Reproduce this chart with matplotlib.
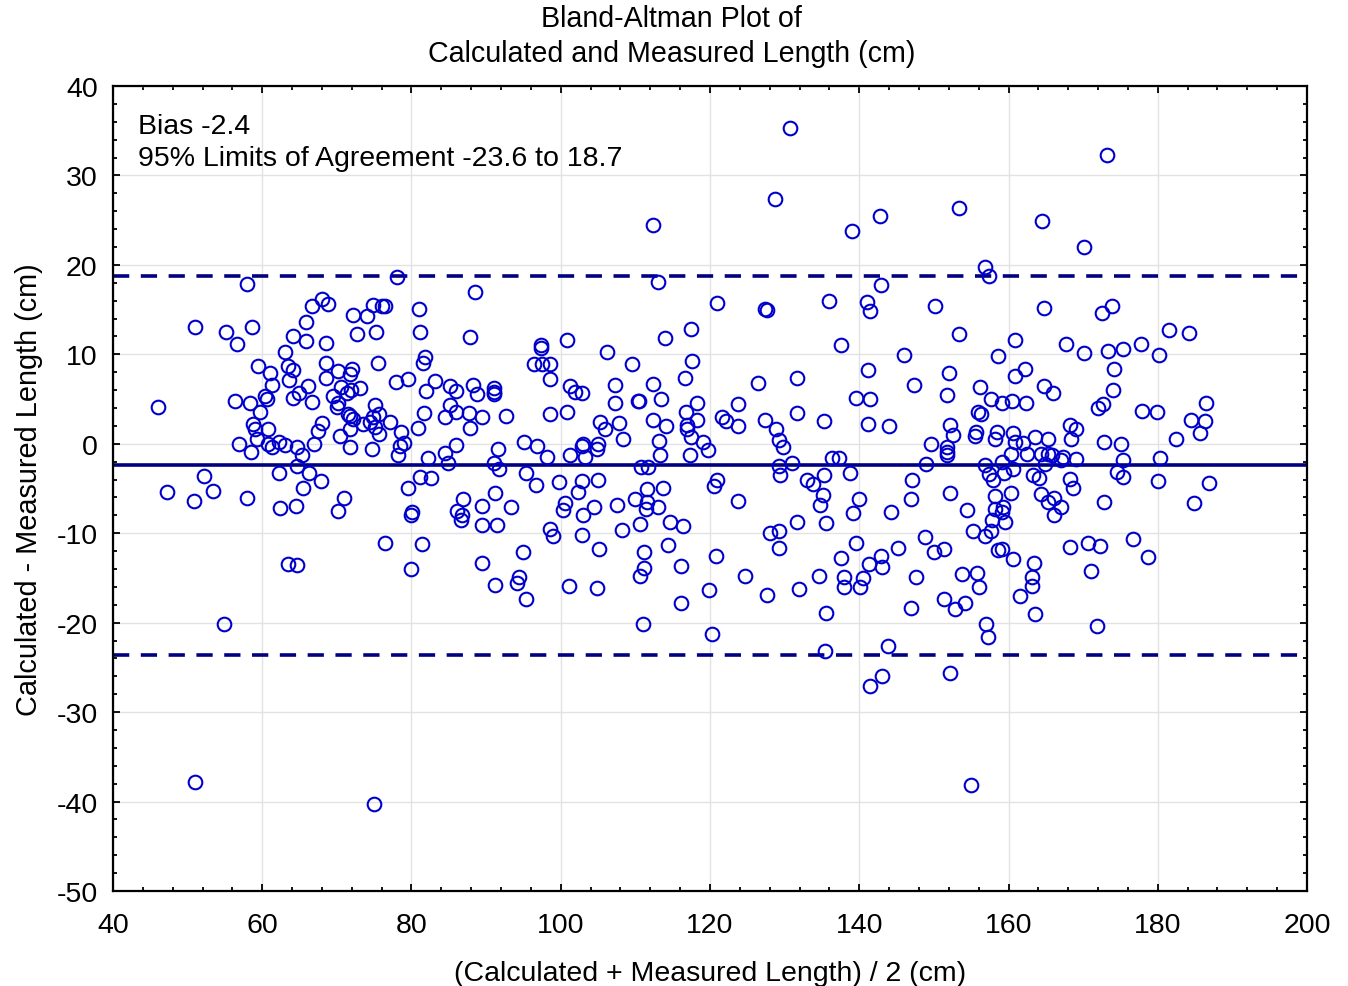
import matplotlib
matplotlib.use('Agg')
import matplotlib.pyplot as plt
from matplotlib.ticker import MultipleLocator
import numpy as np

plt.rcParams['font.family'] = ['Liberation Sans', 'DejaVu Sans']
plt.rcParams['axes.unicode_minus'] = False

# (mean, difference) pairs, grouped by x range
pts_40_78 = [
    (46.1, 4.1), (47.3, -5.4), (50.9, -6.4), (51.0, 13.0), (52.2, -3.6), (53.4, -5.3),
    (54.9, -20.2), (55.1, 12.5), (56.6, 11.2), (56.3, 4.8), (56.9, 0.0), (57.9, 17.9),
    (57.9, -6.1), (58.3, 4.6), (58.6, 13.1), (58.5, -0.9), (58.8, 2.2), (59.0, 1.6),
    (59.3, 0.5), (59.5, 8.7), (59.7, 3.5), (60.4, 5.3), (60.6, 5.0), (60.8, 1.65),
    (60.8, 0.0), (61.0, 7.9), (61.3, 6.6), (61.3, -0.35), (62.2, 0.2), (62.3, -3.3),
    (62.4, -7.2), (63.0, -0.1), (63.1, 10.2), (63.4, 8.7), (63.6, 7.1), (64.1, 8.2),
    (64.1, 12.1), (64.1, 5.1), (63.4, -13.4), (64.5, -7.0), (64.6, -0.4), (64.7, -2.5),
    (64.7, -13.6), (64.9, 5.7), (65.3, -1.3), (65.5, -4.9), (65.8, 13.6), (65.8, 11.5),
    (66.1, 6.4), (66.3, -3.3), (66.7, 15.4), (66.7, 4.7), (67.0, 0.0), (67.5, 1.4),
    (68.0, 2.3), (67.9, -4.2), (68.0, 16.2), (68.8, 15.6), (68.6, 11.3), (68.5, 9.0),
    (68.6, 7.3), (69.5, 5.3), (70.1, 8.1), (70.0, 4.1), (70.2, 4.6), (70.4, 0.9),
    (70.5, 6.3), (71.0, -6.1), (70.2, -7.5), (71.3, 5.7), (71.9, 6.0), (71.5, 3.3),
    (71.8, 3.1), (72.2, 2.8), (71.8, 7.8), (72.0, 8.4), (71.8, 1.65), (71.8, -0.4),
    (72.2, 14.4), (72.7, 12.3), (73.1, 6.2), (73.5, 2.2), (74.1, 14.3), (74.8, 15.5),
    (74.4, 2.4), (74.9, 3.0), (74.7, -0.6), (75.1, 4.3), (75.1, 1.85), (75.2, 12.5),
    (75.5, 9.0), (75.6, 3.3), (75.6, 1.1), (76.0, 15.4), (76.5, 15.4), (76.4, -11.1),
    (77.1, 2.4), (77.9, 6.9), (78.0, 18.6), (51.0, -37.8), (75.0, -40.3),
]

pts_78_118 = [
    (78.6, 1.3), (79.0, 0.1), (78.4, -0.3), (78.2, -1.3), (79.6, 7.2), (79.6, -4.9),
    (80.1, -7.6), (80.0, -8.0), (80.0, -14.0), (80.9, 1.8), (81.0, 15.1), (81.2, 12.5),
    (81.8, 9.7), (81.5, 9.0), (82.0, 5.9), (81.7, 3.4), (81.1, -3.75), (82.2, -1.6),
    (81.4, -11.2), (82.6, -3.85), (83.1, 7.05), (84.5, 3.0), (84.5, -1.0), (84.9, -2.2),
    (85.1, 4.3), (85.2, 6.5), (86.0, 5.9), (86.0, 3.6), (86.0, -0.1), (86.9, -6.2),
    (86.1, -7.5), (86.8, -8.0), (86.7, -8.5), (87.7, 3.4), (87.9, 11.9), (87.9, 1.8),
    (88.2, 6.6), (88.5, 17.0), (88.8, 5.6), (89.5, 3.0), (89.5, -7.0), (89.5, -9.1),
    (89.4, -13.3), (91.0, 6.2), (91.0, 5.8), (91.0, 5.6), (91.0, -2.1), (91.2, -5.5),
    (91.5, -9.1), (91.2, -15.8), (91.6, -0.6), (91.7, -2.8), (92.6, 3.1), (93.4, -7.1),
    (94.9, -12.1), (94.4, -14.9), (94.2, -15.6), (95.1, 0.2), (95.3, -3.3), (95.3, -17.4),
    (96.4, 8.9), (96.8, -0.3), (96.7, -4.6), (97.4, 11.0), (97.4, 10.7), (97.5, 8.9),
    (98.6, 8.9), (98.6, 7.2), (98.6, 3.3), (98.1, -1.5), (98.6, -9.5), (98.9, -10.3),
    (99.8, -4.3), (100.8, 11.6), (100.9, 3.6), (100.6, -6.6), (100.3, -7.4), (101.1, -15.9),
    (101.2, 6.5), (101.3, -1.25), (101.9, 5.75), (102.8, 5.65), (102.8, -0.2), (103.0, 0.0),
    (103.2, -1.5), (102.3, -5.4), (102.9, -4.2), (103.0, -8.0), (102.9, -10.2), (104.5, -7.1),
    (104.8, -0.6), (105.0, 0.0), (105.0, -4.0), (105.1, -11.8), (104.9, -16.1), (105.2, 2.45),
    (105.9, 1.7), (106.2, 10.3), (107.3, 6.6), (107.3, 4.6), (107.8, 2.3), (108.3, 0.55),
    (107.6, -6.8), (108.2, -9.6), (109.5, 8.9), (110.3, 4.8), (110.5, 4.8), (110.8, -2.65),
    (111.7, -2.65), (110.0, -6.2), (111.5, -5.1), (111.5, -6.5), (111.4, -7.3), (110.6, -9.0),
    (111.1, -12.1), (111.1, -13.9), (110.6, -14.8), (111.0, -20.2), (112.3, 24.5), (113.1, 18.1),
    (114.0, 11.8), (112.4, 6.7), (113.5, 5.0), (112.4, 2.6), (114.1, 2.0), (113.2, 0.3),
    (113.3, -1.3), (113.7, -4.9), (113.1, -7.1), (114.7, -8.8), (114.4, -11.3), (116.4, -9.2),
    (116.1, -13.7), (116.1, -17.8), (117.4, 12.8), (117.6, 9.2), (116.7, 7.4), (118.2, 4.5),
    (116.8, 3.6), (116.9, 2.1), (116.9, 1.7), (117.5, 0.7), (118.3, 2.6), (117.3, -1.3),
]

pts_118_159 = [
    (119.0, 0.2), (119.8, -0.65), (120.9, -4.1), (120.5, -4.7), (119.9, -16.35), (120.75, -12.6),
    (120.3, -21.3), (121.0, 15.7), (121.6, 3.0), (122.2, 2.5), (123.8, 4.45), (123.8, 2.0),
    (123.8, -6.4), (124.7, -14.8), (126.4, 6.75), (127.4, 2.65), (127.4, 15.1), (127.6, 15.0),
    (127.6, -16.9), (128.0, -10.0), (128.7, 27.4), (128.8, 1.65), (129.3, 0.45), (129.8, -0.4),
    (129.3, -2.45), (129.4, -3.5), (129.2, -9.8), (129.2, -11.65), (130.7, 35.3), (131.0, -2.15),
    (131.7, 7.4), (131.7, 3.4), (131.7, -8.8), (131.9, -16.2), (133.0, -4.0), (133.8, -4.5),
    (135.3, 2.5), (135.3, -3.45), (135.2, -5.7), (134.7, -6.9), (135.6, -8.85), (134.6, -14.8),
    (135.5, -18.9), (135.4, -23.2), (136.0, 16.0), (136.4, -1.6), (137.3, -1.6), (137.6, 11.0),
    (137.6, -12.8), (138.0, -14.9), (138.0, -16.0), (138.8, -3.3), (139.0, 23.8), (139.1, -7.7),
    (139.5, -11.1), (139.6, 5.1), (140.0, -6.2), (140.5, -15.0), (140.1, -16.0), (141.0, 15.9),
    (141.4, 14.8), (141.2, 8.2), (141.5, 5.0), (141.2, 2.2), (141.3, -13.45), (141.5, -27.05),
    (142.8, 25.5), (142.9, 17.75), (142.9, -12.5), (143.1, -13.8), (143.0, -26.0), (143.8, -22.6),
    (144.0, 1.95), (144.2, -7.65), (145.2, -11.7), (146.0, 9.9), (147.4, 6.6), (147.1, -4.0),
    (147.0, -6.2), (147.6, -14.85), (146.9, -18.4), (148.9, -2.3), (148.8, -10.45), (149.6, 0.0),
    (150.0, -12.1), (150.2, 15.4), (151.3, -11.8), (151.7, 5.4), (151.7, -0.4), (151.7, -0.95),
    (151.7, -1.25), (152.0, 7.9), (152.2, 2.1), (152.5, 1.0), (152.2, -5.5), (152.2, -25.6),
    (151.4, -17.4), (152.8, -18.5), (153.3, 26.3), (153.3, 12.3), (153.8, -14.55), (154.2, -17.8),
    (154.4, -7.4), (155.0, -38.2), (155.2, -9.8), (155.5, 0.85), (155.6, 1.3), (155.9, 3.6),
    (156.3, 3.3), (155.8, -14.5), (156.0, -16.05), (156.2, 6.3), (156.9, 19.8), (157.4, 18.7),
    (156.9, -2.4), (157.4, -3.35), (157.9, -4.1), (156.9, -10.3), (157.7, -9.8), (157.8, -8.5),
    (157.0, -20.1), (157.3, -21.6), (157.6, 5.0), (158.2, -5.8), (158.2, -7.3), (158.4, 1.3),
    (158.2, 0.55), (159.1, 4.6), (158.6, 9.8), (158.6, -11.85),
]

pts_159_200 = [
    (159.1, -2.0), (159.4, -3.3), (160.6, -2.8), (160.3, -5.5), (159.3, -7.1), (159.1, -7.6),
    (159.5, -8.8), (159.1, -11.8), (160.6, -12.9), (163.4, -13.3), (163.1, -14.9), (163.1, -15.9),
    (161.5, -17.0), (163.5, -19.0), (160.9, 11.6), (162.2, 8.3), (160.9, 7.6), (160.5, 4.8),
    (162.3, 4.6), (160.6, 1.25), (160.9, 0.2), (162.0, 0.1), (163.5, 0.8), (165.3, 0.55),
    (160.3, -1.1), (162.5, -1.1), (164.4, -1.1), (165.3, -1.1), (165.8, -1.3), (164.5, 24.9),
    (164.7, 15.2), (164.8, 6.5), (165.9, 5.65), (164.9, -2.3), (163.3, -3.45), (164.1, -3.85),
    (164.3, -5.6), (165.3, -6.5), (166.1, -6.05), (167.0, -7.1), (166.1, -8.0), (167.1, -1.8),
    (167.3, -1.5), (167.7, 11.2), (168.2, 2.1), (169.0, 1.65), (168.4, 0.55), (169.1, -1.7),
    (168.2, -3.9), (168.7, -4.9), (168.3, -11.5), (170.1, 22.0), (170.1, 10.15), (170.6, -11.1),
    (172.3, -11.4), (171.1, -14.2), (171.9, -20.4), (172.0, 4.0), (172.7, 4.45), (172.8, 0.2),
    (172.8, -6.5), (172.5, 14.65), (173.9, 15.4), (173.2, 32.3), (173.3, 10.4), (174.2, 8.3),
    (174.0, 6.05), (174.5, -3.2), (175.3, -3.75), (175.3, -1.8), (175.1, 0.0), (175.4, 10.6),
    (176.7, -10.6), (177.8, 11.2), (177.9, 3.7), (178.7, -12.7), (179.9, 3.5), (180.1, 9.95),
    (180.3, -1.6), (180.0, -4.2), (181.5, 12.7), (182.4, 0.55), (184.2, 12.4), (184.4, 2.6),
    (184.8, -6.65), (185.7, 1.2), (186.3, 2.5), (186.4, 4.6), (186.9, -4.4),
]

bias = -2.4
loa_low = -23.6
loa_high = 18.7

pts = np.array(pts_40_78 + pts_78_118 + pts_118_159 + pts_159_200)
means = pts[:, 0]
diffs = pts[:, 1]

fig = plt.figure(figsize=(13.48, 9.87), dpi=100)
ax = fig.add_axes([0.0838, 0.0963, 0.8858, 0.8156])

ax.grid(True, color='#e2e2e2', linewidth=1.0, zorder=0)
ax.axhline(bias, color='#000080', linewidth=2.6, zorder=2)
ax.axhline(loa_high, color='#000080', linewidth=2.6, linestyle=(0, (4.5, 3.2)), zorder=2)
ax.axhline(loa_low, color='#000080', linewidth=2.6, linestyle=(0, (4.5, 3.2)), zorder=2)
ax.plot(means, diffs, 'o', markersize=9.8, markerfacecolor='none',
        markeredgecolor='#0000cc', markeredgewidth=1.5, zorder=3)

ax.set_xlim(40, 200)
ax.set_ylim(-50, 40)
ax.xaxis.set_major_locator(MultipleLocator(20))
ax.xaxis.set_minor_locator(MultipleLocator(4))
ax.yaxis.set_major_locator(MultipleLocator(10))
ax.yaxis.set_minor_locator(MultipleLocator(2))
ax.tick_params(which='both', direction='in', top=True, right=True, width=1.3)
ax.tick_params(which='major', length=5, labelsize=20.5, pad=11)
ax.tick_params(axis='x', which='major', pad=15)
ax.tick_params(which='minor', length=3)
for s in ax.spines.values():
    s.set_linewidth(1.6)

ax.set_xlabel('(Calculated + Measured Length) / 2 (cm)', fontsize=20.5, labelpad=16)
ax.set_ylabel('Calculated - Measured Length (cm)', fontsize=20.8, labelpad=10)
ax.set_title('Bland-Altman Plot of\nCalculated and Measured Length (cm)', fontsize=20.6,
             linespacing=1.3, pad=18, x=0.468)

ax.text(0.021, 0.967, 'Bias -2.4', transform=ax.transAxes, fontsize=20.5, va='top')
ax.text(0.021, 0.927, '95% Limits of Agreement -23.6 to 18.7', transform=ax.transAxes,
        fontsize=20.5, va='top')

fig.savefig('out.png', dpi=100)
